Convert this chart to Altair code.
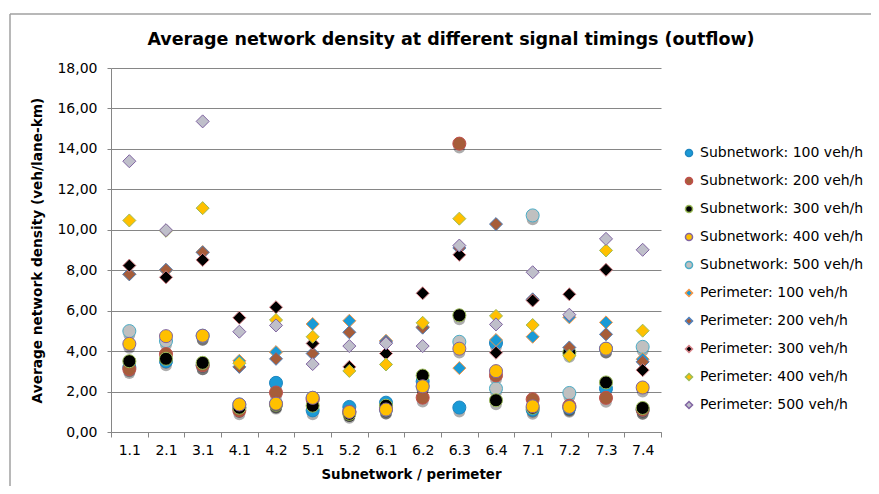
import altair as alt
import pandas as pd

categories = ["1.1", "2.1", "3.1", "4.1", "4.2", "5.1", "5.2", "6.1", "6.2", "6.3", "6.4", "7.1", "7.2", "7.3", "7.4"]

series_names = [
    "Subnetwork: 100 veh/h", "Subnetwork: 200 veh/h", "Subnetwork: 300 veh/h",
    "Subnetwork: 400 veh/h", "Subnetwork: 500 veh/h",
    "Perimeter: 100 veh/h", "Perimeter: 200 veh/h", "Perimeter: 300 veh/h",
    "Perimeter: 400 veh/h", "Perimeter: 500 veh/h",
]

sub_100 = [3.20, 3.50, 3.30, 1.20, 2.43, 1.07, 1.24, 1.45, 2.50, 1.21, 4.40, 1.10, 1.20, 2.15, 1.10]
sub_200 = [3.11, 3.85, 3.30, 1.07, 1.95, 1.60, 1.00, 1.20, 1.70, 14.26, 2.80, 1.62, 1.30, 1.69, 1.10]
sub_300 = [3.50, 3.62, 3.42, 1.20, 1.35, 1.30, 0.90, 1.30, 2.79, 5.77, 1.57, 1.20, 3.92, 2.45, 1.19]
sub_400 = [4.36, 4.74, 4.76, 1.36, 1.40, 1.69, 0.99, 1.11, 2.26, 4.12, 3.01, 1.27, 1.24, 4.12, 2.20]
sub_500 = [4.99, 4.50, 4.76, 1.36, 1.40, 1.69, 0.99, 1.11, 2.26, 4.46, 2.15, 10.71, 1.93, 4.12, 4.21]
per_100 = [7.80, 8.00, 8.90, 3.52, 3.95, 5.34, 5.50, 4.51, 5.20, 3.16, 4.55, 4.71, 5.67, 5.42, 3.60]
per_200 = [7.80, 8.02, 8.88, 3.22, 3.62, 3.88, 4.93, 4.45, 5.16, 9.10, 10.28, 6.56, 4.18, 4.83, 3.47]
per_300 = [8.23, 7.65, 8.51, 5.65, 6.17, 4.38, 3.22, 3.88, 6.86, 8.76, 3.92, 6.50, 6.81, 8.02, 3.06]
per_400 = [10.46, 9.95, 11.07, 3.40, 5.54, 4.71, 3.02, 3.34, 5.40, 10.55, 5.74, 5.29, 3.77, 8.98, 5.01]
per_500 = [13.39, 9.98, 15.36, 4.96, 5.27, 3.36, 4.25, 4.38, 4.25, 9.22, 5.32, 7.90, 5.80, 9.55, 9.01]

all_values = [sub_100, sub_200, sub_300, sub_400, sub_500, per_100, per_200, per_300, per_400, per_500]
# drawing order (lower first); Subnetwork 500 sits beneath the other circles
draw_rank = [1, 2, 3, 4, 0, 5, 6, 7, 8, 9]

fill_colors = ["#1a9ad6", "#a65d3a", "#000000", "#ffc000", "#c0c0c0",
               "#1a9ad6", "#a65d3a", "#000000", "#ffc000", "#bfbfca"]
stroke_colors = ["#1f86c0", "#c0504d", "#9bbb59", "#8064a2", "#4bacc6",
                 "#f79646", "#4f81bd", "#d9848a", "#9bbb59", "#8064a2"]
shapes = ["circle"] * 5 + ["diamond"] * 5

rows = []
for si, (name, vals) in enumerate(zip(series_names, all_values)):
    for cat, v in zip(categories, vals):
        rows.append({"cat": cat, "value": v, "series": name, "order": draw_rank[si],
                     "kind": "sub" if si < 5 else "per"})
df = pd.DataFrame(rows).sort_values("order", kind="stable")

FONT = "DejaVu Sans"
GRID = "#868686"
TITLE = "Average network density at different signal timings (outflow)"

x_enc = alt.X("cat:N", sort=categories,
              scale=alt.Scale(type="band", paddingInner=0, paddingOuter=0),
              axis=alt.Axis(title="Subnetwork / perimeter", labelAngle=0, tickBand="extent",
                            tickSize=5, tickColor=GRID, domainColor=GRID, grid=False,
                            labelFont=FONT, labelFontSize=14, labelColor="#000000", labelPadding=6,
                            titleFont=FONT, titleFontSize=13.4, titleFontWeight="bold",
                            titleColor="#000000", titlePadding=10, titleX=300))
y_enc = alt.Y("value:Q", scale=alt.Scale(domain=[0, 18], nice=False),
              axis=alt.Axis(title="Average network density (veh/lane-km)",
                            values=list(range(0, 19, 2)),
                            labelExpr="replace(format(datum.value, '.2f'), '.', ',')",
                            tickSize=4, tickColor=GRID, domainColor=GRID,
                            grid=True, gridColor=GRID, gridWidth=1,
                            labelFont=FONT, labelFontSize=14, labelColor="#000000", labelPadding=10,
                            titleFont=FONT, titleFontSize=13.7, titleFontWeight="bold",
                            titleColor="#000000", titlePadding=12))

base = alt.Chart(df)

shadow = base.transform_filter(alt.datum.kind == "sub").mark_circle(
    color="#000000", opacity=0.32, size=140, yOffset=4
).encode(x=x_enc, y=y_enc)

points = base.mark_point(filled=True, size=170, strokeWidth=1, opacity=1).encode(
    x=x_enc, y=y_enc,
    fill=alt.Fill("series:N", scale=alt.Scale(domain=series_names, range=fill_colors), title=None),
    stroke=alt.Stroke("series:N", scale=alt.Scale(domain=series_names, range=stroke_colors), title=None),
    shape=alt.Shape("series:N", scale=alt.Scale(domain=series_names, range=shapes), title=None),
    order=alt.Order("order:Q"),
)

one = pd.DataFrame({"a": [0]})
border_top = alt.Chart(one).mark_rule(color="#a0a0a0", strokeWidth=1.5).encode(
    x=alt.value(-101), x2=alt.value(800), y=alt.value(-54))
border_left = alt.Chart(one).mark_rule(color="#a0a0a0", strokeWidth=1.5).encode(
    x=alt.value(-101), y=alt.value(-54), y2=alt.value(440))
title_text = alt.Chart(one).mark_text(
    text=TITLE, font=FONT, fontSize=17.5, fontWeight="bold", color="#000000",
    align="center", baseline="middle"
).encode(x=alt.value(340), y=alt.value(-28))

chart = alt.layer(border_top, border_left, title_text, shadow, points).properties(
    width=550, height=364,
    autosize=alt.AutoSizeParams(type="none"),
    padding={"left": 103, "top": 60, "right": 210, "bottom": 54},
).configure_view(stroke=None).configure_legend(
    orient="none", legendX=571, legendY=78,
    labelFont=FONT, labelFontSize=14, labelColor="#000000", labelLimit=300,
    symbolSize=50, symbolStrokeWidth=1.5, rowPadding=14, labelOffset=4,
)

chart.save("out.html", embed_options={"renderer": "svg", "actions": False})
